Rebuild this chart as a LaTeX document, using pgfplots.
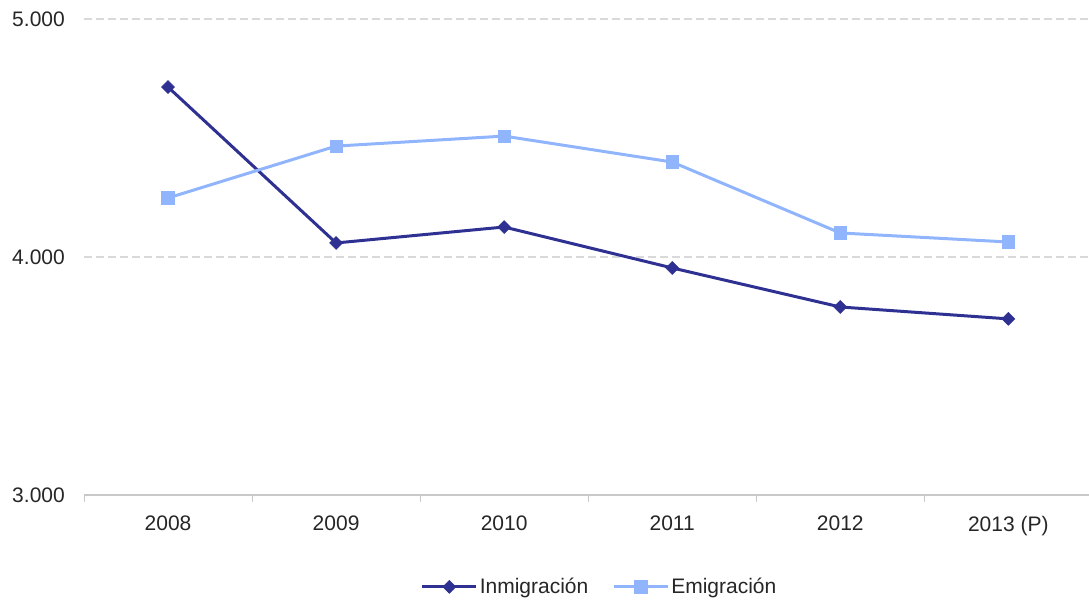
\documentclass[border=0pt]{standalone}
\usepackage{pgfplots}
\pgfplotsset{compat=1.18}
\usepackage{fontspec}
\setmainfont{Liberation Sans}
\definecolor{inmi}{HTML}{2E3192}
\definecolor{emi}{HTML}{91B5FC}
\definecolor{gridc}{HTML}{D9D9D9}
\definecolor{axc}{HTML}{C8C8C8}
\begin{document}
\fontsize{21bp}{25bp}\selectfont
\begin{tikzpicture}
\path[use as bounding box] (0,0) rectangle (1089bp,600bp);
\begin{axis}[
  at={(84bp,105bp)}, anchor=south west,
  scale only axis, width=1005bp, height=476bp,
  clip=false,
  xmin=-0.5, xmax=5.48,
  ymin=3000, ymax=5000,
  xtick={0,...,5},
  xticklabels={2008,2009,2010,2011,2012,2013 (P)},
  minor xtick={-0.5,0.5,1.5,2.5,3.5,4.5},
  ytick={3000,4000,5000},
  axis x line*=bottom, axis y line*=left,
  x axis line style={draw=axc, line width=1.2bp, -},
  y axis line style={draw=none},
  major tick length=0pt,
  minor tick length=7bp,
  tick align=outside,
  minor x tick style={draw=axc, line width=1bp},
  ytick style={draw=none},
  ymajorgrids,
  major grid style={draw=gridc, line width=1.8bp, dash pattern=on 8bp off 4bp},
  tick label style={font=\fontsize{21bp}{25bp}\selectfont, text=black!85},
  xticklabel style={yshift=-14bp},
  yticklabel style={xshift=-12bp},
  /pgf/number format/.cd, 1000 sep={.}, assume math mode=true,
  /pgfplots/.cd,
  legend columns=2,
  legend style={draw=none, at={(0.513,-0.193)}, anchor=center,
    font=\fontsize{21bp}{25bp}\selectfont, text=black!85,
    /tikz/every even column/.append style={column sep=22bp}},
  legend image code/.code={
    \draw[#1, mark repeat=2, mark phase=2] plot coordinates {(0bp,0bp) (27bp,0bp) (54bp,0bp)};
  },
]
\addplot[inmi, line width=3bp, mark=square*, mark size=4.6bp, mark options={solid, fill=inmi, line width=0.5bp, rotate=45}]
  coordinates {(0,4714) (1,4059) (2,4126) (3,3954) (4,3790) (5,3740)};
\addlegendentry{Inmigración}
\addplot[emi, line width=3bp, mark=square*, mark size=6.3bp, mark options={solid, fill=emi, line width=0.5bp}]
  coordinates {(0,4248) (1,4466) (2,4508) (3,4399) (4,4101) (5,4063)};
\addlegendentry{Emigración}
\end{axis}
\end{tikzpicture}
\end{document}
